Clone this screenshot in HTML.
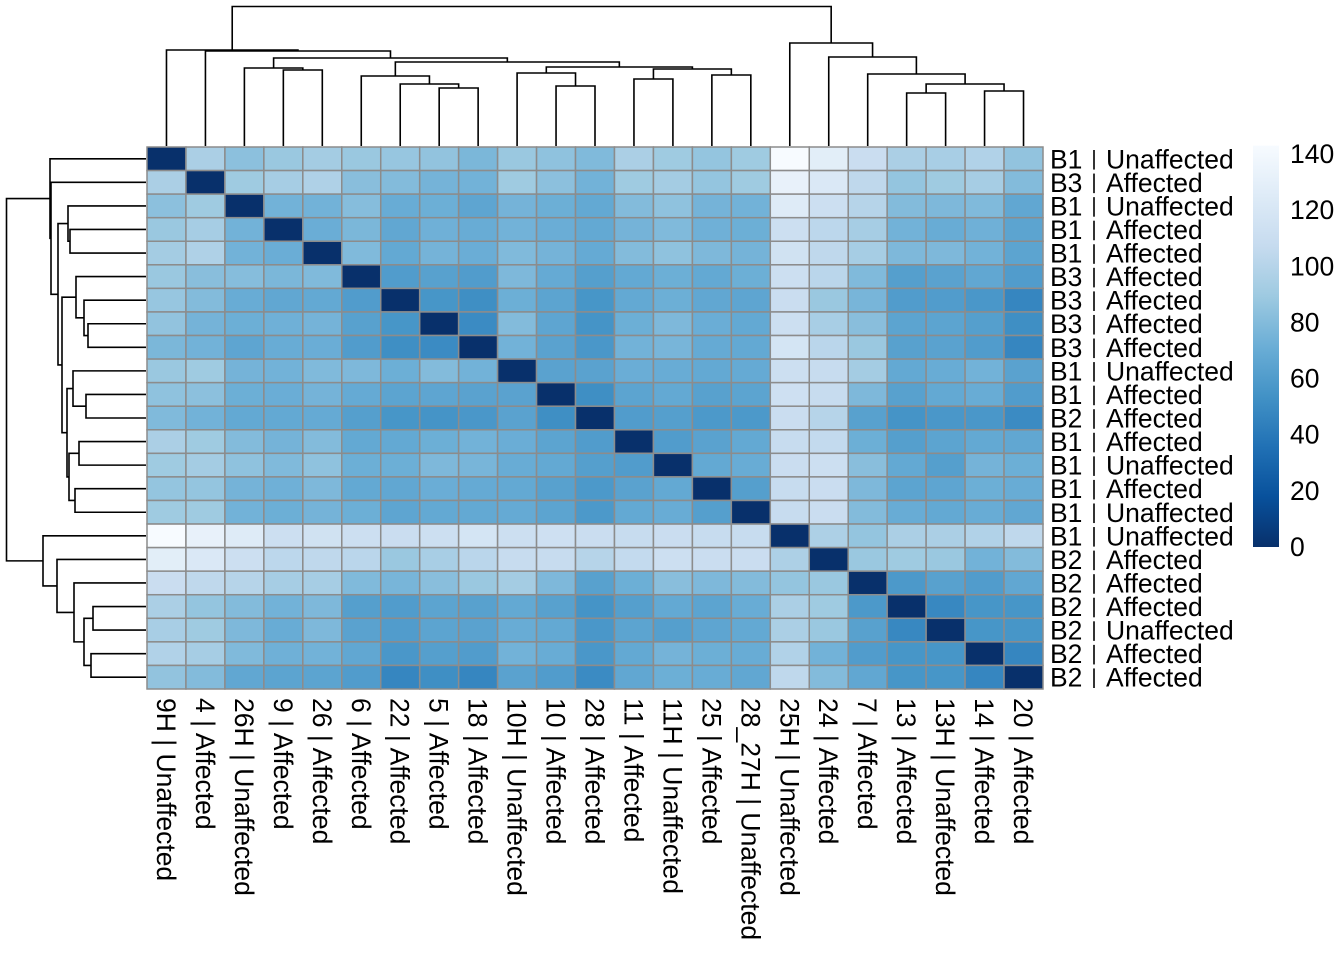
<!DOCTYPE html>
<html><head><meta charset="utf-8"><style>
html,body{margin:0;padding:0;background:#fff;}
svg{display:block;font-family:"Liberation Sans",sans-serif;}
</style></head><body>
<svg id="chart" width="1344" height="960" viewBox="0 0 1344 960">
<defs><linearGradient id="lg" x1="0" y1="1" x2="0" y2="0">
<stop offset="0" stop-color="#08306B"/><stop offset="0.125" stop-color="#08519C"/><stop offset="0.25" stop-color="#2171B5"/><stop offset="0.375" stop-color="#4292C6"/><stop offset="0.5" stop-color="#6BAED6"/><stop offset="0.625" stop-color="#9ECAE1"/><stop offset="0.75" stop-color="#C6DBEF"/><stop offset="0.875" stop-color="#DEEBF7"/><stop offset="1" stop-color="#F7FBFF"/></linearGradient></defs>
<g id="cells"></g>
<g id="topd"></g>
<g id="leftd"></g>
<g id="rlab"></g>
<g id="clab"></g>
<g id="legend"></g>
</svg>
<script>
const colLabels=["9H | Unaffected","4 | Affected","26H | Unaffected","9 | Affected","26 | Affected","6 | Affected","22 | Affected","5 | Affected","18 | Affected","10H | Unaffected","10 | Affected","28 | Affected","11 | Affected","11H | Unaffected","25 | Affected","28_27H | Unaffected","25H | Unaffected","24 | Affected","7 | Affected","13 | Affected","13H | Unaffected","14 | Affected","20 | Affected"];
const rowBatch=["B1","B3","B1","B1","B1","B3","B3","B3","B3","B1","B1","B2","B1","B1","B1","B1","B1","B2","B2","B2","B2","B2","B2"];
const rowStatus=["Unaffected","Affected","Unaffected","Affected","Affected","Affected","Affected","Affected","Affected","Unaffected","Affected","Affected","Affected","Unaffected","Affected","Unaffected","Unaffected","Affected","Affected","Affected","Unaffected","Affected","Affected"];
// upper triangle distances (row i, columns i+1..22)
const upper=[
[95,83,88,92,88,87,85,77,88,84,79,95,90,86,90,143,128,110,95,94,98,85],
[90,93,97,82,80,75,74,90,83,74,90,92,86,90,132,122,104,86,90,93,80],
[74,74,81,70,72,66,75,72,68,80,84,75,74,125,112,100,80,78,79,67],
[71,77,67,73,70,74,71,68,75,79,73,72,112,103,93,74,70,73,65],
[79,68,75,71,79,75,69,80,84,78,75,115,104,93,78,78,74,65],
[60,63,60,78,69,62,68,72,68,72,112,102,79,62,64,67,60],
[56,52,72,65,56,68,72,67,66,110,88,76,60,60,57,47],
[50,80,66,55,72,78,71,68,112,94,82,65,65,62,52],
[74,64,57,74,76,69,68,118,102,88,63,64,60,47],
[64,64,71,70,68,69,112,108,92,68,70,74,64],
[52,65,68,63,65,113,108,78,63,68,70,60],
[60,62,58,58,110,100,63,55,57,57,50],
[60,64,68,108,106,72,62,65,68,67],
[68,70,110,112,82,68,62,75,72],
[62,108,110,78,65,66,72,70],
[108,110,80,70,68,70,67],
[96,86,95,95,98,104],
[88,90,88,74,80],
[58,63,60,67],
[48,56,56],
[56,56],
[47],
[]
];
// dendrogram merges: [childA, childB, height-in-px-from-top]
const tree=[
["L3","L4",70],["L7","L8",88],["L6","M2",84],["L5","M3",76],["L10","L11",86],["L9","M5",73],
["L12","L13",79],["L14","L15",75],["M7","M8",69],["M6","M9",67],["M4","M10",62],["L2","M1",68],
["M12","M11",58],["L1","M13",51],["L0","M14",50],
["L19","L20",93],["L21","L22",91],["M16","M17",84],["L18","M18",74],["L17","M19",57],["L16","M20",43],
["M15","M21",6.5]
];
const NC=23, X0=147, Y0=147, W=896, H=542, cw=W/NC, ch=H/NC, VMAX=143, FS=26.5;
const pal=["#08306B","#08519C","#2171B5","#4292C6","#6BAED6","#9ECAE1","#C6DBEF","#DEEBF7","#F7FBFF"];
function hx(c){return [1,3,5].map(i=>parseInt(c.substr(i,2),16));}
function color(v){let t=Math.max(0,Math.min(1,v/VMAX))*8;let i=Math.min(7,Math.floor(t)),f=t-i;const a=hx(pal[i]),b=hx(pal[i+1]);return "rgb("+a.map((x,k)=>Math.round(x+(b[k]-x)*f)).join(",")+")";}
function xs(i){return X0+i*cw;} function ys(i){return Y0+i*ch;}
const NS="http://www.w3.org/2000/svg";
function mk(tag,attrs,parent){const e=document.createElementNS(NS,tag);for(const k in attrs)e.setAttribute(k,attrs[k]);parent.appendChild(e);return e;}
function val(i,j){if(i===j)return 0;return i<j?upper[i][j-i-1]:upper[j][i-j-1];}
const cellsG=document.getElementById('cells');
for(let i=0;i<NC;i++)for(let j=0;j<NC;j++){
 const r=mk('rect',{x:xs(j),y:ys(i),width:cw,height:ch,fill:color(val(i,j)),stroke:'#8c8c8c','stroke-width':1.5},cellsG);
 
 
}
const pos={},hgt={};
for(let i=0;i<NC;i++){pos["L"+i]=i+0.5;hgt["L"+i]=146;}
const topG=document.getElementById('topd'),leftG=document.getElementById('leftd');
tree.forEach((m,k)=>{
 const id="M"+(k+1),a=m[0],b=m[1],h=m[2];
 const pa=pos[a],pb=pos[b];
 pos[id]=(pa+pb)/2;hgt[id]=h;
 const ha=hgt[a],hb=hgt[b];
 const p=mk('path',{d:`M${X0+pa*cw},${ha}V${h}H${X0+pb*cw}V${hb}`,fill:'none',stroke:'#000','stroke-width':1.6},topG);
 
 
 const q=mk('path',{d:`M${ha},${Y0+pa*ch}H${h}V${Y0+pb*ch}H${hb}`,fill:'none',stroke:'#000','stroke-width':1.6},leftG);
 
 
});
const rl=document.getElementById('rlab');
for(let i=0;i<NC;i++){
 const yb=ys(i)+ch/2+9.5;
 const t=mk('text',{x:1050,y:yb,'font-size':FS,fill:'#000'},rl);t.textContent=rowBatch[i];
 
 
 const s=mk('line',{x1:1094,x2:1094,y1:ys(i)+3,y2:ys(i)+ch-1,stroke:'#000','stroke-width':1.6},rl);
 
 
 const u=mk('text',{x:1106,y:yb,'font-size':FS,fill:'#000'},rl);u.textContent=rowStatus[i];
 
 
}
const cl=document.getElementById('clab');
for(let j=0;j<NC;j++){
 const x=xs(j)+cw/2-9.5;
 const t=mk('text',{x:0,y:0,'font-size':FS,fill:'#000',transform:`translate(${x},698) rotate(90)`},cl);
 t.textContent=colLabels[j];
 
 
}
const lg=document.getElementById('legend');
const legTicks=[0,20,40,60,80,100,120,140];
const ly0=547,lsc=(547-154)/140;
const lr=mk('rect',{x:1253,y:ly0-VMAX*lsc,width:26,height:VMAX*lsc,fill:'url(#lg)'},lg);


legTicks.forEach(v=>{
 const t=mk('text',{x:1290,y:ly0-v*lsc+9,'font-size':FS,fill:'#000'},lg);t.textContent=v;
 
 
});
</script>
</body></html>
